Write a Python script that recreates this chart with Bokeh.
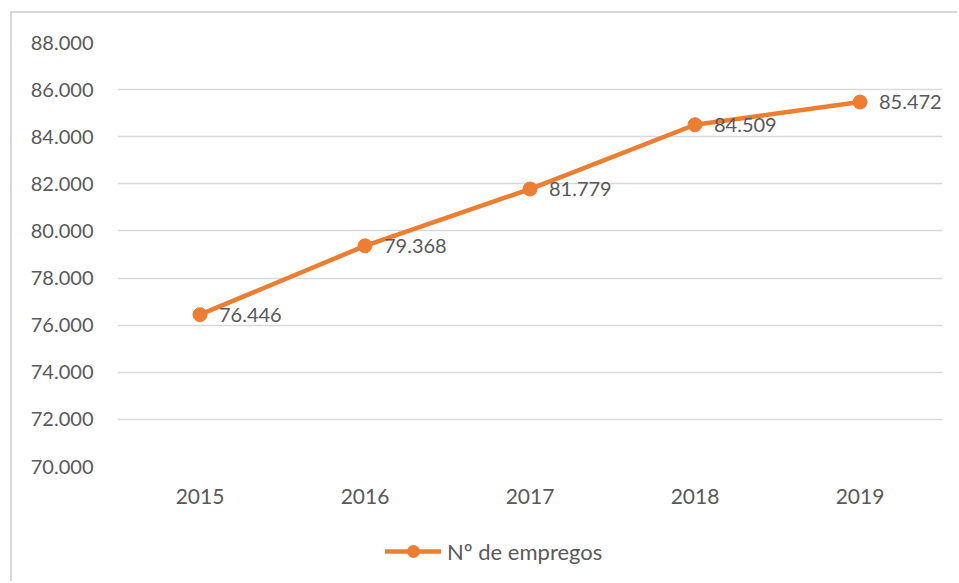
from bokeh.plotting import figure
from bokeh.layouts import column
from bokeh.models import (ColumnDataSource, FactorRange, Range1d, FixedTicker,
                          Legend, LegendItem)
from bokeh.core.properties import value
from bokeh.embed import file_html
from bokeh.resources import INLINE

# ---- data ----
years = ["2015", "2016", "2017", "2018", "2019"]
empregos = [76446, 79368, 81779, 84509, 85472]
y_ticks = [70000, 72000, 74000, 76000, 78000, 80000, 82000, 84000, 86000, 88000]
y_tick_labels = ["70.000", "72.000", "74.000", "76.000", "78.000",
                 "80.000", "82.000", "84.000", "86.000", "88.000"]
series_name = "Nº de empregos"

value_labels = [f"{v:,}".replace(",", ".") for v in empregos]

ORANGE = "#ED7D31"
TEXT = "#595959"
GRID = "#D9D9D9"
FONT = "Lato"

src = ColumnDataSource(dict(x=years, y=empregos, label=value_labels))

# ---- main chart ----
p = figure(x_range=FactorRange(*years), y_range=Range1d(y_ticks[0], y_ticks[-1]),
           width=945, height=512, output_backend="svg", toolbar_location=None,
           min_border_left=105, min_border_right=15, min_border_top=29,
           min_border_bottom=59)
p.outline_line_color = None
p.background_fill_color = "white"
p.border_fill_color = "white"

line_r = p.line("x", "y", source=src, line_color=ORANGE, line_width=4.5,
                line_cap="round", line_join="round")
dot_r = p.scatter("x", "y", source=src, size=14, fill_color=ORANGE,
                  line_color=ORANGE)
p.text("x", "y", text="label", source=src, x_offset=19, text_baseline="middle",
       text_align="left", text_font=value(FONT), text_font_size="20px",
       text_color=TEXT)

p.yaxis.ticker = FixedTicker(ticks=y_ticks)
p.yaxis.major_label_overrides = dict(zip(y_ticks, y_tick_labels))
for ax in (p.xaxis[0], p.yaxis[0]):
    ax.axis_line_color = None
    ax.major_tick_line_color = None
    ax.minor_tick_line_color = None
    ax.major_tick_out = 0
    ax.major_tick_in = 0
    ax.major_label_text_font = FONT
    ax.major_label_text_color = TEXT
p.yaxis.major_label_text_font_size = "20px"
p.xaxis.major_label_text_font_size = "21px"
p.yaxis.major_label_standoff = 24
p.xaxis.major_label_standoff = 22

p.xgrid.grid_line_color = None
p.ygrid.ticker = FixedTicker(ticks=y_ticks)
p.ygrid.grid_line_color = GRID
p.ygrid.grid_line_width = 1.5

# ---- legend strip (same series, its marks fall outside this strip's range) ----
lg = figure(x_range=FactorRange(*years), y_range=Range1d(0, 1),
            width=945, height=56, output_backend="svg", toolbar_location=None,
            x_axis_location=None, y_axis_location=None, min_border=0)
lg.outline_line_color = None
lg.grid.visible = False
lg_line = lg.line("x", "y", source=src, line_color=ORANGE, line_width=4.5,
                  line_cap="round")
lg_dot = lg.scatter("x", "y", source=src, size=14, fill_color=ORANGE,
                    line_color=ORANGE)
legend = Legend(items=[LegendItem(label=series_name, renderers=[lg_line, lg_dot])],
                location=(268, 15), orientation="horizontal",
                border_line_color=None, background_fill_alpha=0,
                label_text_font=FONT, label_text_font_size="22px",
                label_text_color=TEXT, glyph_width=56, glyph_height=30,
                label_standoff=6, padding=0, margin=0)
lg.add_layout(legend, "center")

layout = column(p, lg, spacing=0)
layout.margin = (11, 0, 0, 10)
layout.styles = {"border-left": f"2px solid {GRID}", "border-top": f"2px solid {GRID}"}

open("out.html", "w").write(file_html(layout, INLINE))
